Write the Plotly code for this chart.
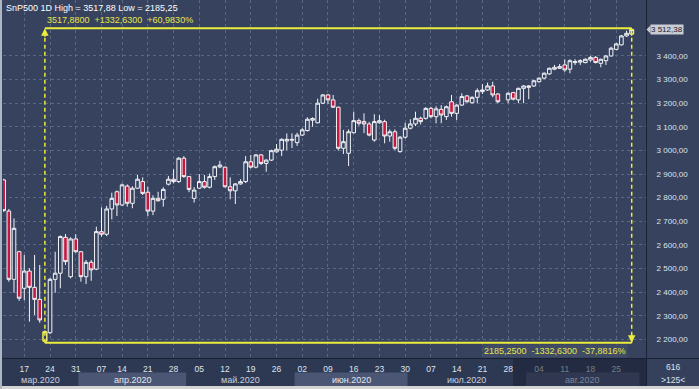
import plotly.graph_objects as go

# ---------------- data ----------------
dates = [
    "2020-03-11", "2020-03-12", "2020-03-13", "2020-03-16", "2020-03-17", "2020-03-18", "2020-03-19", "2020-03-20",
    "2020-03-23", "2020-03-24", "2020-03-25", "2020-03-26", "2020-03-27", "2020-03-30", "2020-03-31",
    "2020-04-01", "2020-04-02", "2020-04-03", "2020-04-06", "2020-04-07", "2020-04-08", "2020-04-09", "2020-04-13",
    "2020-04-14", "2020-04-15", "2020-04-16", "2020-04-17", "2020-04-20", "2020-04-21", "2020-04-22", "2020-04-23",
    "2020-04-24", "2020-04-27", "2020-04-28", "2020-04-29", "2020-04-30",
    "2020-05-01", "2020-05-04", "2020-05-05", "2020-05-06", "2020-05-07", "2020-05-08", "2020-05-11", "2020-05-12",
    "2020-05-13", "2020-05-14", "2020-05-15", "2020-05-18", "2020-05-19", "2020-05-20", "2020-05-21", "2020-05-22",
    "2020-05-25", "2020-05-26", "2020-05-27", "2020-05-28", "2020-05-29",
    "2020-06-01", "2020-06-02", "2020-06-03", "2020-06-04", "2020-06-05", "2020-06-08", "2020-06-09", "2020-06-10",
    "2020-06-11", "2020-06-12", "2020-06-15", "2020-06-16", "2020-06-17", "2020-06-18", "2020-06-19", "2020-06-22",
    "2020-06-23", "2020-06-24", "2020-06-25", "2020-06-26", "2020-06-29", "2020-06-30",
    "2020-07-01", "2020-07-02", "2020-07-03", "2020-07-06", "2020-07-07", "2020-07-08", "2020-07-09", "2020-07-10",
    "2020-07-13", "2020-07-14", "2020-07-15", "2020-07-16", "2020-07-17", "2020-07-20", "2020-07-21", "2020-07-22",
    "2020-07-23", "2020-07-24", "2020-07-27", "2020-07-28", "2020-07-29", "2020-07-30", "2020-07-31",
    "2020-08-02", "2020-08-03", "2020-08-04", "2020-08-05", "2020-08-06", "2020-08-07", "2020-08-10", "2020-08-11",
    "2020-08-12", "2020-08-13", "2020-08-14", "2020-08-17", "2020-08-18", "2020-08-19", "2020-08-20", "2020-08-21",
    "2020-08-24", "2020-08-25", "2020-08-26", "2020-08-27", "2020-08-28",
]

opens = [
    2875, 2743, 2454, 2571, 2416, 2489, 2420, 2369, 2192, 2228,
    2454, 2480, 2632, 2465, 2625, 2571, 2465, 2526, 2497, 2656,
    2645, 2752, 2825, 2769, 2849, 2776, 2840, 2868, 2823, 2743,
    2797, 2793, 2857, 2878, 2868, 2967, 2889, 2797, 2840, 2868,
    2844, 2889, 2930, 2929, 2846, 2829, 2858, 2868, 2952, 2929,
    2981, 2945, 2959, 2994, 3001, 3040, 3047, 3033, 3065, 3084,
    3128, 3117, 3200, 3235, 3214, 3183, 3009, 2988, 3075, 3126,
    3122, 3112, 3044, 3117, 3122, 3061, 3079, 2995, 3056, 3094,
    3112, 3136, 3136, 3178, 3143, 3174, 3143, 3206, 3157, 3192,
    3231, 3202, 3225, 3249, 3256, 3273, 3239, None,
    3214, 3245, 3214, 3263, 3267, 3273, 3291, 3306, 3324, 3344,
    3348, 3362, 3344, 3372, 3374, 3372, 3383, 3394, 3369, 3380,
    3400, 3428, 3447, 3485, 3493,
]
highs = [
    2880, 2752, 2712, 2575, 2557, 2501, 2557, 2515, 2238, 2460,
    2571, 2640, 2646, 2632, 2645, 2574, 2536, 2536, 2677, 2759,
    2765, 2821, 2830, 2860, 2856, 2848, 2896, 2886, 2846, 2810,
    2825, 2844, 2892, 2920, 2972, 2976, 2891, 2845, 2900, 2896,
    2902, 2936, 2956, 2932, 2886, 2862, 2878, 2976, 2981, 2985,
    2985, 2962, 3003, 3027, 3051, 3072, 3072, 3075, 3094, 3140,
    3140, 3219, 3239, 3239, 3235, 3185, 3087, 3089, 3164, 3135,
    3157, 3121, 3153, 3150, 3130, 3089, 3089, 3061, 3117, 3132,
    3164, 3143, 3183, 3185, 3187, 3192, 3190, 3235, 3196, 3242,
    3234, 3229, 3263, 3281, 3287, 3291, 3243, None,
    3246, 3248, 3266, 3276, 3276, 3299, 3309, 3330, 3351, 3362,
    3366, 3386, 3386, 3386, 3386, 3390, 3400, 3400, 3389, 3404,
    3439, 3456, 3489, 3507, 3517.88,
]
lows = [
    2740, 2444, 2397, 2363, 2366, 2275, 2303, 2270, 2185.25, 2222,
    2397, 2416, 2515, 2458, 2567, 2444, 2434, 2448, 2493, 2635,
    2637, 2708, 2722, 2765, 2762, 2755, 2836, 2811, 2722, 2726,
    2783, 2762, 2852, 2860, 2862, 2884, 2823, 2779, 2836, 2838,
    2839, 2875, 2925, 2843, 2793, 2773, 2855, 2862, 2924, 2924,
    2938, 2910, 2955, 2990, 2976, 3001, 3010, 3019, 3061, 3080,
    3100, 3115, 3196, 3197, 3180, 2999, 2985, 2934, 3072, 3105,
    3073, 3060, 3037, 3113, 3030, 3037, 3001, 2990, 3050, 3089,
    3103, 3110, 3130, 3136, 3115, 3115, 3129, 3143, 3129, 3189,
    3203, 3198, 3200, 3239, 3252, 3225, 3200, None,
    3200, 3212, 3200, 3200, 3217, 3269, 3287, 3302, 3320, 3340,
    3345, 3333, 3327, 3362, 3362, 3369, 3376, 3369, 3352, 3362,
    3398, 3425, 3444, 3481, 3485,
]
closes = [
    2745, 2454, 2670, 2374, 2489, 2420, 2369, 2282, 2232, 2454,
    2480, 2635, 2529, 2625, 2571, 2465, 2526, 2494, 2656, 2645,
    2752, 2797, 2769, 2854, 2776, 2840, 2878, 2818, 2743, 2797,
    2787, 2835, 2878, 2868, 2967, 2889, 2835, 2832, 2868, 2844,
    2889, 2931, 2938, 2846, 2829, 2858, 2868, 2952, 2929, 2981,
    2945, 2959, 2999, 3005, 3047, 3047, 3044, 3065, 3087, 3132,
    3135, 3200, 3235, 3214, 3183, 3009, 3037, 3079, 3126, 3115,
    3112, 3065, 3122, 3126, 3061, 3079, 3009, 3056, 3094, 3112,
    3136, 3122, 3178, 3143, 3176, 3150, 3185, 3157, 3192, 3228,
    3206, 3225, 3253, 3256, 3273, 3235, 3206, None,
    3242, 3217, 3263, 3273, 3273, 3295, 3306, 3327, 3348, 3352,
    3355, 3341, 3380, 3376, 3380, 3386, 3394, 3372, 3386, 3400,
    3433, 3451, 3485, 3496, 3512.38,
]

tick_dates = ["2020-03-17", "2020-03-24", "2020-03-31", "2020-04-07", "2020-04-14", "2020-04-21",
              "2020-04-28", "2020-05-05", "2020-05-12", "2020-05-19", "2020-05-26", "2020-06-02",
              "2020-06-09", "2020-06-16", "2020-06-23", "2020-06-30", "2020-07-07", "2020-07-14",
              "2020-07-21", "2020-07-28", "2020-08-04", "2020-08-11", "2020-08-18", "2020-08-25"]
tick_text = [d[-2:] for d in tick_dates]
month_keys = ["2020-03", "2020-04", "2020-05", "2020-06", "2020-07", "2020-08"]
month_labels = ["мар.2020", "апр.2020", "май.2020", "июн.2020", "июл.2020", "авг.2020"]
y_ticks = [2200, 2300, 2400, 2500, 2600, 2700, 2800, 2900, 3000, 3100, 3200, 3300, 3400]
symbol = "SnP500"
timeframe = "1D"
bars_count = "616"
zoom_text = ">125<"

# ---------------- styling / geometry ----------------
W, H = 699, 389
ML, MR, MT, MB = 3, 53, 0, 31
PW, PH = W - ML - MR, H - MT - MB
PLOT_BG = "#36425e"
AX_BG = "#2d3853"
BAND_LIGHT = "#4a5673"
GRID = "#5a6784"
YEL = "#ecec3c"
TXT = "#dfe4ec"
FONT = "Liberation Sans, Arial, sans-serif"
NARROW = "Liberation Sans Narrow, Arial Narrow, Liberation Sans, Arial, sans-serif"

def pxx(px):
    return (px - ML) / PW

def pxy(py):
    return (MT + PH - py) / PH

def fmt_num(v, d):
    return f"{v:.{d}f}".replace(".", ",")

def fmt_axis(v):
    s = f"{v:,.2f}"
    return s.replace(",", " ").replace(".", ",")

valid = [i for i, v in enumerate(highs) if v is not None]
i_hi = max(valid, key=lambda i: highs[i])
i_lo = min(valid, key=lambda i: lows[i])
hi, lo = highs[i_hi], lows[i_lo]
last_close = [c for c in closes if c is not None][-1]
diff = hi - lo

X0, X1 = -0.136, 124.78
Y0, Y1 = 2120.8, 3637.1

fig = go.Figure()
fig.add_trace(go.Candlestick(
    x=dates, open=opens, high=highs, low=lows, close=closes,
    increasing=dict(line=dict(color="#f2f4f8", width=1), fillcolor=PLOT_BG),
    decreasing=dict(line=dict(color="#f2f4f8", width=1), fillcolor="#c8173f"),
    whiskerwidth=0, showlegend=False, hoverinfo="skip",
))

shapes = []
annotations = []

# x-axis strip background (day row)
shapes.append(dict(type="rect", xref="paper", yref="paper", x0=pxx(0), x1=pxx(646),
                   y0=pxy(386), y1=pxy(358), fillcolor=AX_BG, line_width=0, layer="below"))
# month bands
for k, (mk, ml) in enumerate(zip(month_keys, month_labels)):
    idx = [i for i, d in enumerate(dates) if d.startswith(mk)]
    a = idx[0] - 0.5 if k > 0 else X0 - 1
    b = idx[-1] + 0.5 if k < len(month_keys) - 1 else idx[-1] + 1.5
    col = BAND_LIGHT if k % 2 == 1 else AX_BG
    shapes.append(dict(type="rect", xref="x", yref="paper", x0=a, x1=b,
                       y0=pxy(386), y1=pxy(372.5), fillcolor=col, line_width=0, layer="below"))
    tcol = "#7a849c" if k == len(month_keys) - 1 else ("#e4e8ef" if k % 2 == 1 else "#c9d0dc")
    annotations.append(dict(x=(max(a, X0) + b) / 2, xref="x", y=pxy(379.5), yref="paper",
                            text=ml, showarrow=False, font=dict(size=9, color=tcol, family=FONT),
                            xanchor="center", yanchor="middle"))
# dark overlay on the last part of the time axis
shapes.append(dict(type="rect", xref="paper", yref="paper", x0=pxx(513), x1=pxx(646),
                   y0=pxy(386), y1=pxy(358), fillcolor="#1a2133", opacity=0.55, line_width=0, layer="above"))
# bottom-right box
shapes.append(dict(type="rect", xref="paper", yref="paper", x0=pxx(646), x1=pxx(699),
                   y0=pxy(386), y1=pxy(358), fillcolor="#34405c", line_width=0, layer="below"))
# separators
shapes.append(dict(type="line", xref="paper", yref="paper", x0=pxx(0), x1=pxx(699),
                   y0=pxy(358.5), y1=pxy(358.5), line=dict(color="#1a2134", width=1), layer="above"))
shapes.append(dict(type="line", xref="paper", yref="paper", x0=pxx(646.5), x1=pxx(646.5),
                   y0=pxy(386), y1=pxy(0), line=dict(color="#1a2134", width=1), layer="above"))
# outer frame
shapes.append(dict(type="rect", xref="paper", yref="paper", x0=pxx(0), x1=pxx(699),
                   y0=pxy(389), y1=pxy(386), fillcolor="#d4d4d4", line_width=0, layer="above"))
shapes.append(dict(type="rect", xref="paper", yref="paper", x0=pxx(0), x1=pxx(2),
                   y0=pxy(389), y1=pxy(0), fillcolor="#aeb6c4", line_width=0, layer="above"))

# measurement tool (yellow)
shapes.append(dict(type="line", xref="x", yref="y", x0=i_lo, x1=i_hi, y0=hi, y1=hi,
                   line=dict(color=YEL, width=2), layer="above"))
shapes.append(dict(type="line", xref="x", yref="y", x0=i_lo, x1=i_hi, y0=lo, y1=lo,
                   line=dict(color=YEL, width=2), layer="above"))
shapes.append(dict(type="line", xref="x", yref="y", x0=i_lo, x1=i_lo, y0=lo, y1=hi,
                   line=dict(color=YEL, width=1.5, dash="4px,3px"), layer="above"))
shapes.append(dict(type="line", xref="x", yref="y", x0=i_hi, x1=i_hi, y0=lo, y1=hi,
                   line=dict(color=YEL, width=1.5, dash="4px,3px"), layer="above"))
for i in (i_lo, i_hi):
    shapes.append(dict(type="rect", xref="x", yref="y", x0=i - 0.4, x1=i + 0.4,
                       y0=min(opens[i], closes[i]), y1=max(opens[i], closes[i]),
                       line=dict(color=YEL, width=1), layer="above"))
annotations.append(dict(x=i_lo, y=hi, xref="x", yref="y", text="", showarrow=True, arrowhead=2,
                        arrowsize=1, arrowwidth=1.5, arrowcolor=YEL, ax=0, ay=10, standoff=0))
annotations.append(dict(x=i_hi, y=lo, xref="x", yref="y", text="", showarrow=True, arrowhead=2,
                        arrowsize=1, arrowwidth=1.5, arrowcolor=YEL, ax=0, ay=-10, standoff=0))

sp = "\u00a0\u00a0"
top_txt = f"{fmt_num(hi, 4)}{sp}+{fmt_num(diff, 4)}{sp}+{fmt_num(diff / lo * 100, 4)}%"
bot_txt = f"{fmt_num(lo, 4)}{sp}-{fmt_num(diff, 4)}{sp}-{fmt_num(diff / hi * 100, 4)}%"
annotations.append(dict(x=i_lo, y=hi, xref="x", yref="y", text=top_txt, showarrow=False,
                        xanchor="left", yanchor="bottom", xshift=0, yshift=1,
                        font=dict(size=9, color="#e6e64a", family=FONT)))
annotations.append(dict(x=i_hi, y=lo, xref="x", yref="y", text=bot_txt, showarrow=False,
                        xanchor="right", yanchor="top", xshift=-4, yshift=-1, bgcolor="#404b66",
                        borderpad=1, font=dict(size=9, color="#e6e64a", family=FONT)))

# header
annotations.append(dict(x=pxx(4), y=pxy(8), xref="paper", yref="paper",
                        text=f"{symbol} {timeframe} High = {fmt_num(hi, 2)} Low = {fmt_num(lo, 2)}",
                        showarrow=False, xanchor="left", yanchor="middle",
                        font=dict(size=9, color="#ffffff", family=FONT)))

# last price marker on the right axis
annotations.append(dict(x=pxx(650), y=last_close, xref="paper", yref="y", text=fmt_axis(last_close),
                        showarrow=False, xanchor="left", yanchor="middle", bgcolor="#c9ccd3",
                        borderpad=0, font=dict(size=8, color="#1c2230", family=NARROW)))
shapes.append(dict(type="path", xref="paper", yref="paper",
                   path=f"M {pxx(646.5)} {pxy(29.5)} L {pxx(650.5)} {pxy(25.5)} L {pxx(650.5)} {pxy(33.5)} Z",
                   fillcolor="#c9ccd3", line_width=0, layer="above"))

# bottom-right info
annotations.append(dict(x=pxx(672.5), y=pxy(367), xref="paper", yref="paper", text=bars_count,
                        showarrow=False, xanchor="center", yanchor="middle",
                        font=dict(size=8.5, color=TXT, family=FONT)))
annotations.append(dict(x=pxx(672.5), y=pxy(379.5), xref="paper", yref="paper", text=zoom_text,
                        showarrow=False, xanchor="center", yanchor="middle",
                        font=dict(size=8.5, color=TXT, family=FONT)))

fig.update_layout(
    width=W, height=H,
    margin=dict(l=ML, r=MR, t=MT, b=MB, pad=0),
    paper_bgcolor=PLOT_BG, plot_bgcolor=PLOT_BG,
    showlegend=False,
    boxgap=0.3, boxgroupgap=0,
    shapes=shapes, annotations=annotations,
    xaxis=dict(type="category", categoryorder="array", categoryarray=dates, range=[X0, X1],
               rangeslider=dict(visible=False), tickmode="array", tickvals=tick_dates, ticktext=tick_text,
               showgrid=True, gridcolor=GRID, griddash="3px,3px", gridwidth=1,
               ticks="outside", ticklen=3, tickcolor="rgba(0,0,0,0)",
               tickfont=dict(size=8.5, color=TXT, family=FONT), showline=False, zeroline=False,
               fixedrange=True),
    yaxis=dict(side="right", range=[Y0, Y1], tickmode="array", tickvals=y_ticks,
               ticktext=[fmt_axis(v) for v in y_ticks],
               showgrid=True, gridcolor=GRID, griddash="3px,3px", gridwidth=1,
               ticks="outside", ticklen=8, tickcolor="rgba(0,0,0,0)",
               tickfont=dict(size=8, color=TXT, family=NARROW), showline=False, zeroline=False,
               fixedrange=True),
)

fig.write_html(
    "out.html",
    config={"displayModeBar": False},
    post_script="document.body.style.margin='0';document.body.style.padding='0';document.body.style.overflow='hidden';",
)
